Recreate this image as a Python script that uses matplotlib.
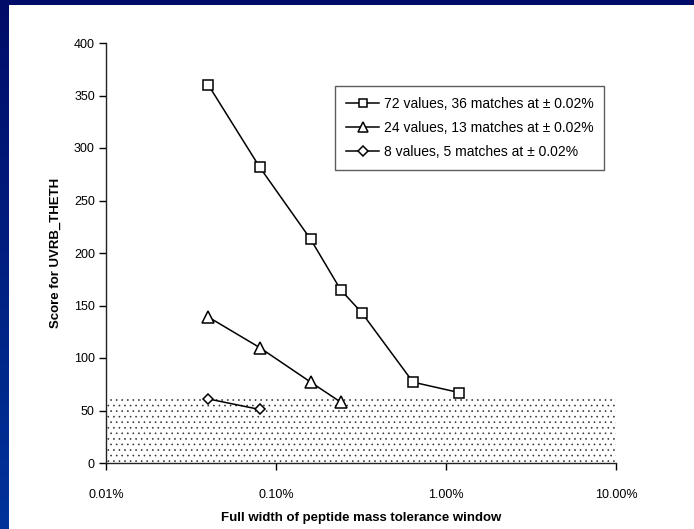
import numpy as np
import matplotlib
matplotlib.use("Agg")
import matplotlib.pyplot as plt
from matplotlib.patches import Rectangle
from matplotlib.colors import LinearSegmentedColormap
from matplotlib.ticker import FixedLocator, FixedFormatter, NullLocator

# ---- data ----
x_72 = [0.04, 0.08, 0.16, 0.24, 0.32, 0.64, 1.2]
y_72 = [360, 282, 213, 165, 143, 77, 67]
x_24 = [0.04, 0.08, 0.16, 0.24]
y_24 = [139, 110, 77, 58]
x_8 = [0.04, 0.08]
y_8 = [61, 51]
labels = ["72 values, 36 matches at \u00b1 0.02%",
          "24 values, 13 matches at \u00b1 0.02%",
          "8 values, 5 matches at \u00b1 0.02%"]
threshold = 64
x_ticks = [0.01, 0.1, 1, 10]
x_ticklabels = ["0.01%", "0.10%", "1.00%", "10.00%"]
y_ticks = [0, 50, 100, 150, 200, 250, 300, 350, 400]

plt.rcParams['font.family'] = ['Liberation Sans', 'DejaVu Sans']
plt.rcParams['hatch.linewidth'] = 0.45
plt.rcParams['hatch.color'] = '#333333'

W, H = 694, 529
fig = plt.figure(figsize=(W / 100, H / 100), dpi=100)
fig.patch.set_facecolor('white')

# decorative blue frame (top strip + left gradient strip)
fig.patches.append(Rectangle((0, 1 - 5 / H), 1, 5 / H, transform=fig.transFigure,
                             facecolor='#000c6a', edgecolor='none', zorder=0))
gax = fig.add_axes([0, 0, 9 / W, 1 - 5 / H])
grad = np.linspace(0, 1, 256).reshape(-1, 1)
cmap = LinearSegmentedColormap.from_list('bl', ['#000d68', '#00339a'])
gax.imshow(grad, aspect='auto', cmap=cmap, extent=[0, 1, 0, 1], origin='upper')
gax.axis('off')

left, right, top, bottom = 106, 616, 43, 463
ax = fig.add_axes([left / W, 1 - bottom / H, (right - left) / W, (bottom - top) / H])
ax.set_xscale('log')
ax.set_xlim(0.01, 10)
ax.set_ylim(0, 400)

# shaded threshold region
ax.fill_between([0.01, 10], 0, threshold, facecolor='none', edgecolor='#333333',
                hatch='...', linewidth=0, zorder=1)

mk = dict(color='black', lw=1.1, markerfacecolor='white', markeredgecolor='black',
          markeredgewidth=1.1, zorder=3)
ax.plot(x_72, y_72, marker='s', markersize=7.5, label=labels[0], **mk)
ax.plot(x_24, y_24, marker='^', markersize=8, label=labels[1], **mk)
ax.plot(x_8, y_8, marker='D', markersize=5.5, label=labels[2], **mk)

for s in ['top', 'right']:
    ax.spines[s].set_visible(False)
for s in ['left', 'bottom']:
    ax.spines[s].set_linewidth(1.0)
    ax.spines[s].set_color('#222222')

ax.xaxis.set_major_locator(FixedLocator(x_ticks))
ax.xaxis.set_major_formatter(FixedFormatter(x_ticklabels))
ax.xaxis.set_minor_locator(NullLocator())
ax.set_yticks(y_ticks)
ax.tick_params(axis='x', direction='out', length=5, width=1, pad=14, labelsize=9)
ax.tick_params(axis='y', direction='out', length=5, width=1, pad=3, labelsize=9)

ax.set_xlabel("Full width of peptide mass tolerance window", fontweight='bold',
              fontsize=9.5, labelpad=8)
ax.set_ylabel("Score for UVRB_THETH", fontweight='bold', fontsize=9.5, labelpad=9)

leg = ax.legend(loc='upper left', bbox_to_anchor=((335 - left) / (right - left), (bottom - 86) / (bottom - top)),
                frameon=True, fancybox=False, edgecolor='#333333', fontsize=10,
                handlelength=2.4, handletextpad=0.3, borderpad=0.8, labelspacing=0.7,
                borderaxespad=0, markerscale=0.85)
leg.get_frame().set_linewidth(1.0)

fig.savefig('out.png', dpi=100, facecolor='white')
